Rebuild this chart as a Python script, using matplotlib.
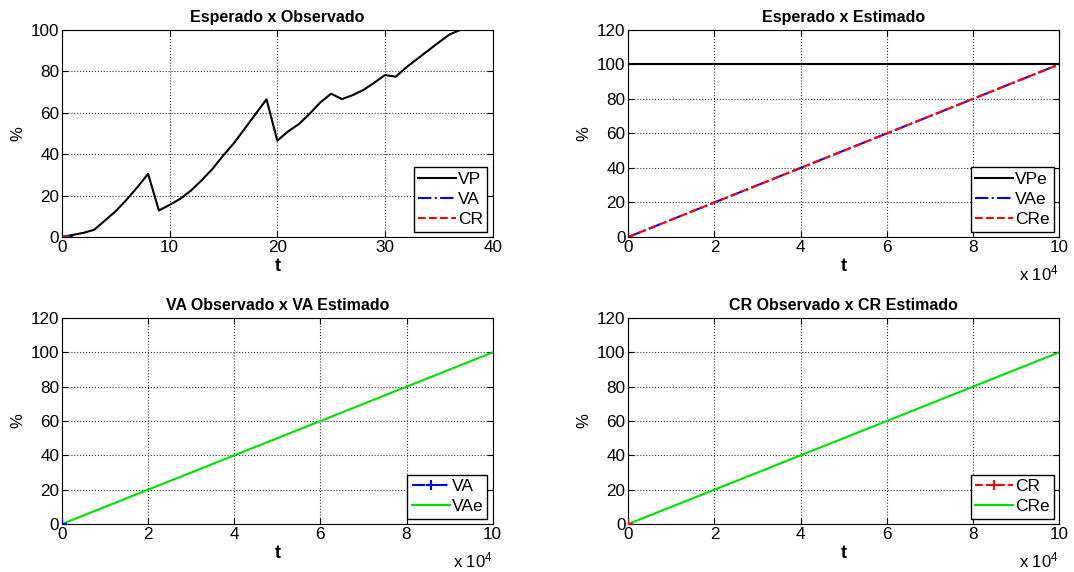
import numpy as np
import matplotlib.pyplot as plt

plt.rcParams['font.family'] = ['Liberation Sans', 'DejaVu Sans']
plt.rcParams['font.size'] = 12
plt.rcParams['mathtext.default'] = 'regular'

# observed data (t in steps)
t_obs = list(range(0, 41))
VP = [0, 1, 2, 3.5, 8, 12.5, 18, 24, 30.5, 12.8, 15.5, 18.5, 22.5, 27.5, 33, 39.5,
      45.5, 52.5, 59.5, 66.5, 46.5, 51, 54.5, 59.5, 65, 69.2, 66.6, 68.5, 71, 74.5,
      78.2, 77.4, 82, 86, 90, 94, 97.8, 100, 100, 100, 100]
t_va = [0, 1]
VA = [0, 0.2]
CR = [0, 0.2]

# estimated data
t_est = [0, 100000]
VPe = [100, 100]
VAe = [0, 100]
CRe = [0, 100]

fig = plt.figure(figsize=(10.74, 5.72), dpi=100)
w = 0.401
ax1 = fig.add_axes([0.0577, 0.5857, w, 0.362])
ax2 = fig.add_axes([0.585, 0.5857, w, 0.362])
ax3 = fig.add_axes([0.0577, 0.0839, w, 0.360])
ax4 = fig.add_axes([0.585, 0.0839, w, 0.360])

leg_kw = dict(loc='lower right', fancybox=False, edgecolor='black', framealpha=1,
              fontsize=12.5, borderpad=0.25, labelspacing=0.3, handlelength=2.2,
              handletextpad=0.1, borderaxespad=0.3)

ax1.plot(t_obs, VP, color='black', lw=1.5, label='VP')
ax1.plot(t_va, VA, color='blue', ls='-.', lw=1.5, label='VA')
ax1.plot(t_va, CR, color='red', ls='--', lw=1.5, label='CR')
ax1.set_xlim(0, 40)
ax1.set_ylim(0, 100)
ax1.set_xticks([0, 10, 20, 30, 40])
ax1.set_yticks([0, 20, 40, 60, 80, 100])
ax1.set_title('Esperado x Observado', fontweight='bold', fontsize=11.5)
ax1.legend(**leg_kw)

ax2.plot(t_est, VPe, color='black', lw=1.5, label='VPe')
ax2.plot(t_est, VAe, color='blue', ls='-.', lw=1.5, label='VAe')
ax2.plot(t_est, CRe, color='red', ls='--', lw=1.5, label='CRe')
ax2.set_title('Esperado x Estimado', fontweight='bold', fontsize=11.5)
ax2.legend(**leg_kw)

ax3.plot(t_est, VAe, color='#00e000', lw=1.5, label='VAe', zorder=2)
ax3.plot([0], [0], color='blue', ls='-.', marker='+', ms=7, mew=1.5, lw=1.5, label='VA', zorder=3)
ax3.set_title('VA Observado x VA Estimado', fontweight='bold', fontsize=11.5)
h, l = ax3.get_legend_handles_labels()
ax3.legend(h[::-1], l[::-1], **leg_kw)

ax4.plot(t_est, CRe, color='#00e000', lw=1.5, label='CRe', zorder=2)
ax4.plot([0], [0], color='red', ls='--', marker='+', ms=7, mew=1.5, lw=1.5, label='CR', zorder=3)
ax4.set_title('CR Observado x CR Estimado', fontweight='bold', fontsize=11.5)
h, l = ax4.get_legend_handles_labels()
ax4.legend(h[::-1], l[::-1], **leg_kw)

for ax in [ax2, ax3, ax4]:
    ax.set_xlim(0, 100000)
    ax.set_ylim(0, 120)
    ax.set_xticks(np.arange(0, 100001, 20000))
    ax.set_xticklabels([str(v) for v in range(0, 11, 2)])
    ax.set_yticks(range(0, 121, 20))
    ax.text(1.0, -0.175, r'x 10$^4$', transform=ax.transAxes, ha='right', va='center', fontsize=12)

for ax in [ax1, ax2, ax3, ax4]:
    ax.grid(True, ls=':', color='#333333', lw=0.8)
    ax.tick_params(direction='in', top=True, right=True, length=4, pad=2, labelsize=12.3)
    ax.set_xlabel('t', fontweight='bold', fontsize=13, labelpad=2)
    ax.set_ylabel('%', fontsize=12, labelpad=4)
    for s in ax.spines.values():
        s.set_linewidth(0.8)

fig.savefig('out.png', dpi=100)
